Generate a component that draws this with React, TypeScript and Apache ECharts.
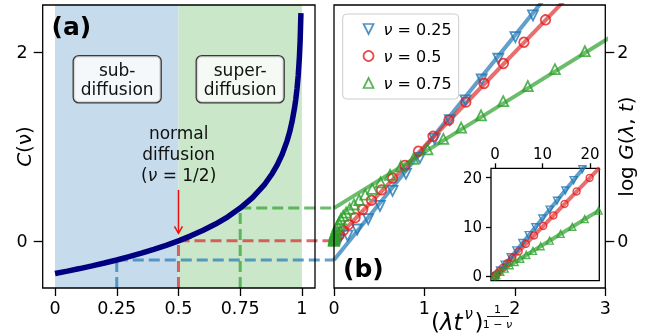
import React, { useEffect, useRef } from "react";
import * as echarts from "echarts";

// ---------- data ----------
// panel (a): C(nu)
const nuValues = [0, 0.05, 0.1, 0.15, 0.2, 0.25, 0.3, 0.35, 0.4, 0.45, 0.5, 0.55, 0.6, 0.65, 0.7, 0.75, 0.8, 0.85, 0.88, 0.9, 0.92, 0.94, 0.95, 0.96, 0.97, 0.975, 0.98, 0.985, 0.99, 0.993, 0.996];
const cValues = [-0.347, -0.321, -0.294, -0.265, -0.235, -0.203, -0.168, -0.131, -0.091, -0.048, 0, 0.053, 0.112, 0.178, 0.255, 0.347, 0.458, 0.602, 0.714, 0.805, 0.916, 1.06, 1.151, 1.263, 1.407, 1.498, 1.609, 1.753, 1.956, 2.134, 2.414];
const guideNu = [0.25, 0.5, 0.75];
const guideC = [-0.203, 0, 0.347];
const regionEdges = [0, 0.5, 1];
const arrowFrom = 0.54;
const arrowTo = 0.08;
const leftXTicks = [0, 0.25, 0.5, 0.75, 1];
const leftYTicks = [0, 2];

// panel (b): log G vs (lambda t^nu)^(1/(1-nu))
const seriesNames = ["ν = 0.25", "ν = 0.5", "ν = 0.75"];
const blueX = [0.059, 0.15, 0.257, 0.378, 0.508, 0.648, 0.796, 0.951, 1.113, 1.281, 1.454, 1.633, 1.817, 2.006, 2.2];
const blueY = [0.015, 0.055, 0.12, 0.23, 0.37, 0.53, 0.71, 0.88, 1.08, 1.28, 1.49, 1.71, 1.93, 2.16, 2.39];
const redX = [0.0065, 0.0259, 0.0583, 0.1037, 0.162, 0.2333, 0.3175, 0.4147, 0.525, 0.648, 0.784, 0.933, 1.095, 1.27, 1.458, 1.659, 1.873, 2.1, 2.339];
const redY = [0.007, 0.027, 0.062, 0.11, 0.172, 0.246, 0.332, 0.43, 0.54, 0.665, 0.8, 0.95, 1.108, 1.28, 1.47, 1.668, 1.88, 2.105, 2.343];
const greenX = [0.000003, 0.00004, 0.0002, 0.0007, 0.0017, 0.0034, 0.0064, 0.0108, 0.0174, 0.0265, 0.0387, 0.0549, 0.0756, 0.1016, 0.134, 0.173, 0.221, 0.278, 0.345, 0.423, 0.515, 0.62, 0.74, 0.878, 1.034, 1.209, 1.406, 1.626, 1.871, 2.143, 2.443, 2.774];
const greenY = [0.001, 0.005, 0.012, 0.021, 0.033, 0.047, 0.064, 0.08, 0.1, 0.13, 0.16, 0.19, 0.23, 0.265, 0.3, 0.34, 0.385, 0.433, 0.49, 0.55, 0.62, 0.7, 0.79, 0.87, 0.97, 1.08, 1.2, 1.33, 1.48, 1.64, 1.82, 2.01];
// asymptotic straight lines
const lineX = [0, 22];
const blueLineY = [-0.203, 25.98];
const redLineY = [0, 22];
const greenLineY = [0.347, 13.39];
const rightXTicks = [0, 1, 2, 3];
const rightYTicks = [0, 2];

// inset
const insetBlueX = [0, 1.05, 2.04, 3.3, 4.49, 5.75, 7.09, 8.49, 9.97, 11.51, 13.05, 14.81, 16.56, 18.39];
const insetBlueY = [0, 1.1, 2.3, 3.8, 5.2, 6.7, 8.3, 9.9, 11.7, 13.5, 15.3, 17.4, 19.5, 21.7];
const insetRedX = [0, 0.1, 0.41, 0.91, 1.63, 2.54, 3.66, 4.98, 6.5, 8.23, 10.16, 12.3, 14.64, 17.18, 19.92];
const insetRedY = [0, 0.11, 0.43, 0.94, 1.66, 2.57, 3.69, 5.0, 6.53, 8.25, 10.18, 12.32, 14.66, 17.2, 19.94];
const insetGreenX = [0, 0.28, 1.12, 2.04, 3.09, 4.14, 5.33, 6.6, 8.0, 9.61, 11.51, 13.82, 16.28, 18.88, 21.8];
const insetGreenY = [0, 0.2, 0.85, 1.5, 2.17, 2.83, 3.5, 4.28, 5.1, 6.04, 7.2, 8.56, 10.0, 11.56, 13.3];
const insetTicks = [0, 10, 20];

const zip = (a: number[], b: number[]) => a.map((v, i) => [v, b[i]]);

const FONT = "DejaVu Sans";
const BLUE = "#1f77b4";
const RED = "#e41a1c";
const GREEN = "#2ca02c";
const BLUE_L = "rgba(31,119,180,0.7)";
const RED_L = "rgba(222,40,40,0.68)";
const GREEN_L = "rgba(44,160,44,0.7)";
const guideColors = ["rgba(31,119,180,0.7)", "rgba(214,39,40,0.7)", "rgba(44,160,44,0.7)"];

const tickStyle = { color: "#000", width: 1.3 };

function valueAxis(opts: any) {
  const { ticks, fontSize = 17.5, margin = 12, tickLen = 9, ...rest } = opts;
  return {
    type: "value",
    splitLine: { show: false },
    axisLine: { show: false, onZero: false },
    axisTick: { show: true, length: tickLen, lineStyle: tickStyle, customValues: ticks },
    axisLabel: {
      show: true,
      customValues: ticks,
      color: "#000",
      fontFamily: FONT,
      fontSize,
      margin,
      formatter: (v: number) => String(v),
    },
    nameMoveOverlap: false,
    ...rest,
  };
}

export default function App() {
  const ref = useRef<HTMLDivElement>(null);
  useEffect(() => {
    const chart = echarts.init(ref.current!, null, { renderer: "svg" });
    const hollow = (c: string) => ({ color: "rgba(255,255,255,0)", borderColor: c, borderWidth: 1.8 });
    const hollowS = (c: string) => ({ color: "rgba(255,255,255,0)", borderColor: c, borderWidth: 1.4 });
    const lineSeries = (name: string, xi: number, y: number[], color: string, z: number) => ({
      type: "line",
      name,
      xAxisIndex: xi,
      yAxisIndex: xi,
      data: zip(lineX, y),
      showSymbol: false,
      symbol: "none",
      lineStyle: { color, width: 4 },
      z,
      silent: true,
      clip: true,
    });
    const gridBase = { show: true, borderColor: "#000", borderWidth: 1.3, outerBoundsMode: "none", containLabel: false };
    const option: any = {
      animation: false,
      textStyle: { fontFamily: FONT },
      grid: [
        { ...gridBase, left: 42.7, top: 5, width: 272.3, height: 283, backgroundColor: "transparent", z: 10 },
        { ...gridBase, left: 334, top: 5, width: 271.3, height: 283, backgroundColor: "transparent", z: 10 },
        { ...gridBase, left: 491, top: 168.3, width: 108.3, height: 112.4, backgroundColor: "#fff", z: 11 },
      ],
      xAxis: [
        valueAxis({ gridIndex: 0, min: -0.05, max: 1.053, ticks: leftXTicks, margin: 11, tickLen: 8 }),
        valueAxis({ gridIndex: 1, min: 0, max: 3, ticks: rightXTicks, margin: 11, tickLen: 8 }),
        valueAxis({ gridIndex: 2, min: -0.84, max: 21.96, ticks: insetTicks, position: "top", fontSize: 15, margin: 7, tickLen: 5, z: 12 }),
      ],
      yAxis: [
        valueAxis({
          gridIndex: 0, min: -0.5, max: 2.5, ticks: leftYTicks, margin: 15,
          name: "{i|C}(ν)", nameLocation: "middle", nameGap: 9, nameRotate: 90,
          nameTextStyle: { fontSize: 20, fontFamily: FONT, color: "#000", rich: { i: { fontStyle: "italic", fontSize: 20, fontFamily: FONT } } },
        }),
        valueAxis({
          gridIndex: 1, min: -0.5, max: 2.5, ticks: rightYTicks, position: "right", margin: 12,
          name: "log {i|G}({i|λ}, {i|t})", nameLocation: "middle", nameGap: 11, nameRotate: 90,
          nameTextStyle: { fontSize: 20, fontFamily: FONT, color: "#000", rich: { i: { fontStyle: "italic", fontSize: 20, fontFamily: FONT } } },
        }),
        valueAxis({ gridIndex: 2, min: -0.96, max: 21.9, ticks: insetTicks, fontSize: 15, margin: 9, tickLen: 5, z: 12 }),
      ],
      legend: {
        orient: "vertical",
        left: 342.7,
        top: 14,
        z: 20,
        padding: [5, 7, 6, 20],
        itemGap: 7,
        itemWidth: 10,
        itemHeight: 10,
        backgroundColor: "rgba(255,255,255,0.85)",
        borderColor: "#cccccc",
        borderWidth: 1,
        borderRadius: 4,
        textStyle: { fontFamily: FONT, fontSize: 16, color: "#000", lineHeight: 20, padding: [0, 0, 0, 5], rich: { i: { fontStyle: "italic", fontSize: 16, fontFamily: FONT } } },
        formatter: (n: string) => "{i|ν}" + n.slice(1),
        data: [
          { name: seriesNames[0], icon: "path://M0,0L10,0L5,10Z", itemStyle: { color: "rgba(255,255,255,0)", borderColor: BLUE, borderWidth: 1.7 } },
          { name: seriesNames[1], icon: "circle", itemStyle: { color: "rgba(255,255,255,0)", borderColor: RED, borderWidth: 1.7 } },
          { name: seriesNames[2], icon: "triangle", itemStyle: { color: "rgba(255,255,255,0)", borderColor: GREEN, borderWidth: 1.7 } },
        ],
      },
      series: [
        {
          type: "line",
          xAxisIndex: 0,
          yAxisIndex: 0,
          data: [],
          z: 1,
          silent: true,
          markArea: {
            silent: true,
            data: [
              [{ xAxis: regionEdges[0], itemStyle: { color: "#c6dcec" } }, { xAxis: regionEdges[1] }],
              [{ xAxis: regionEdges[1], itemStyle: { color: "#cae7ca" } }, { xAxis: regionEdges[2] }],
            ],
          },
        },
        {
          type: "line",
          xAxisIndex: 0,
          yAxisIndex: 0,
          data: zip(nuValues, cValues),
          showSymbol: false,
          symbol: "none",
          lineStyle: { color: "#000080", width: 5.5 },
          z: 5,
          silent: true,
        },
        lineSeries("l25", 1, blueLineY, BLUE_L, 3),
        lineSeries("l50", 1, redLineY, RED_L, 3),
        lineSeries("l75", 1, greenLineY, GREEN_L, 3),
        { type: "scatter", name: seriesNames[0], xAxisIndex: 1, yAxisIndex: 1, data: zip(blueX, blueY), symbol: "triangle", symbolRotate: 180, symbolSize: 10, itemStyle: hollow(BLUE), z: 4, silent: true },
        { type: "scatter", name: seriesNames[1], xAxisIndex: 1, yAxisIndex: 1, data: zip(redX, redY), symbol: "circle", symbolSize: 9.5, itemStyle: hollow(RED), z: 4, silent: true },
        { type: "scatter", name: seriesNames[2], xAxisIndex: 1, yAxisIndex: 1, data: zip(greenX, greenY), symbol: "triangle", symbolSize: 10, itemStyle: hollow(GREEN), z: 4, silent: true },
        lineSeries("i25", 2, blueLineY, BLUE_L, 12),
        lineSeries("i50", 2, redLineY, RED_L, 12),
        lineSeries("i75", 2, greenLineY, GREEN_L, 12),
        { type: "scatter", name: "in25", xAxisIndex: 2, yAxisIndex: 2, data: zip(insetBlueX, insetBlueY), symbol: "triangle", symbolRotate: 180, symbolSize: 7, itemStyle: hollowS(BLUE), z: 13, silent: true },
        { type: "scatter", name: "in50", xAxisIndex: 2, yAxisIndex: 2, data: zip(insetRedX, insetRedY), symbol: "circle", symbolSize: 7, itemStyle: hollowS(RED), z: 13, silent: true },
        { type: "scatter", name: "in75", xAxisIndex: 2, yAxisIndex: 2, data: zip(insetGreenX, insetGreenY), symbol: "triangle", symbolSize: 7, itemStyle: hollowS(GREEN), z: 13, silent: true },
      ],
    };
    chart.setOption(option);

    const toL = (x: number, y: number) => chart.convertToPixel({ xAxisIndex: 0, yAxisIndex: 0 }, [x, y]) as number[];
    const toR = (x: number, y: number) => chart.convertToPixel({ xAxisIndex: 1, yAxisIndex: 1 }, [x, y]) as number[];
    const guides: any[] = [];
    guideNu.forEach((nu, i) => {
      const c = guideC[i];
      const pb = toL(nu, -0.5);
      const pc = toL(nu, c);
      const pr = toR(0, c);
      const st = { stroke: guideColors[i], lineWidth: 3, lineDash: [11, 5], fill: null };
      guides.push({ type: "line", z: 3, silent: true, shape: { x1: pb[0], y1: pb[1], x2: pc[0], y2: pc[1] }, style: st });
      guides.push({ type: "line", z: 3, silent: true, shape: { x1: pc[0], y1: pc[1], x2: pr[0], y2: pr[1] }, style: st });
    });
    // annotation arrow pointing to nu = 1/2
    const a0 = toL(guideNu[1], arrowFrom);
    const a1 = toL(guideNu[1], arrowTo);
    const arrowStyle = { stroke: "#ee1111", lineWidth: 1.5, fill: null };
    guides.push({ type: "line", z: 21, silent: true, shape: { x1: a0[0], y1: a0[1], x2: a1[0], y2: a1[1] }, style: arrowStyle });
    guides.push({ type: "polyline", z: 21, silent: true, shape: { points: [[a1[0] - 4, a1[1] - 7], [a1[0], a1[1]], [a1[0] + 4, a1[1] - 7]] }, style: arrowStyle });

    const boxStyle = {
      fontFamily: FONT,
      fontSize: 17,
      lineHeight: 19,
      fill: "#111",
      align: "center",
      verticalAlign: "middle",
      backgroundColor: "rgba(255,255,255,0.8)",
      borderColor: "#3a3a3a",
      borderWidth: 1.3,
      borderRadius: 5,
      padding: [4, 7],
    };
    const texts: any[] = [
      { type: "text", z: 20, x: 51.5, y: 26, style: { text: "(a)", fontFamily: FONT, fontSize: 25, fontWeight: "bold", fill: "#000", verticalAlign: "middle" } },
      { type: "text", z: 20, x: 343, y: 268.5, style: { text: "(b)", fontFamily: FONT, fontSize: 25, fontWeight: "bold", fill: "#000", verticalAlign: "middle" } },
      { type: "text", z: 20, x: 117.2, y: 79.2, style: { ...boxStyle, text: "sub-\ndiffusion" } },
      { type: "text", z: 20, x: 240.2, y: 79.2, style: { ...boxStyle, text: "super-\ndiffusion" } },
      {
        type: "text", z: 20, x: 178.7, y: 154,
        style: {
          text: "{n|normal}\n{n|diffusion}\n{n|(}{i|ν}{n| = 1/2)}",
          align: "center", verticalAlign: "middle", fill: "#111",
          rich: {
            n: { fontFamily: FONT, fontSize: 17, lineHeight: 21, fill: "#111" },
            i: { fontFamily: FONT, fontSize: 17, lineHeight: 21, fontStyle: "italic", fill: "#111" },
          },
        },
      },
      // x label of panel (b)
      { type: "text", z: 20, x: 431, y: 321.5, style: { text: "{n|(}{i|λt}", verticalAlign: "middle", rich: { n: { fontFamily: FONT, fontSize: 23, fill: "#000" }, i: { fontFamily: FONT, fontSize: 23, fontStyle: "italic", fill: "#000" } } } },
      { type: "text", z: 20, x: 464.5, y: 313.5, style: { text: "ν", fontFamily: FONT, fontSize: 15, fontStyle: "italic", fill: "#000", verticalAlign: "middle" } },
      { type: "text", z: 20, x: 474.5, y: 321.5, style: { text: ")", fontFamily: FONT, fontSize: 23, fill: "#000", verticalAlign: "middle" } },
      { type: "text", z: 20, x: 497.5, y: 309.5, style: { text: "1", fontFamily: FONT, fontSize: 11, fill: "#000", align: "center", verticalAlign: "middle" } },
      { type: "line", z: 20, shape: { x1: 487, y1: 316.5, x2: 509, y2: 316.5 }, style: { stroke: "#000", lineWidth: 0.9 } },
      { type: "text", z: 20, x: 497.5, y: 324, style: { text: "{n|1 − }{i|ν}", align: "center", verticalAlign: "middle", rich: { n: { fontFamily: FONT, fontSize: 11, fill: "#000" }, i: { fontFamily: FONT, fontSize: 11, fontStyle: "italic", fill: "#000" } } } },
    ];
    chart.setOption({ graphic: [...guides, ...texts] });
    return () => chart.dispose();
  }, []);
  return <div ref={ref} style={{ position: "fixed", left: 0, top: 0, width: 650, height: 334 }} />;
}
